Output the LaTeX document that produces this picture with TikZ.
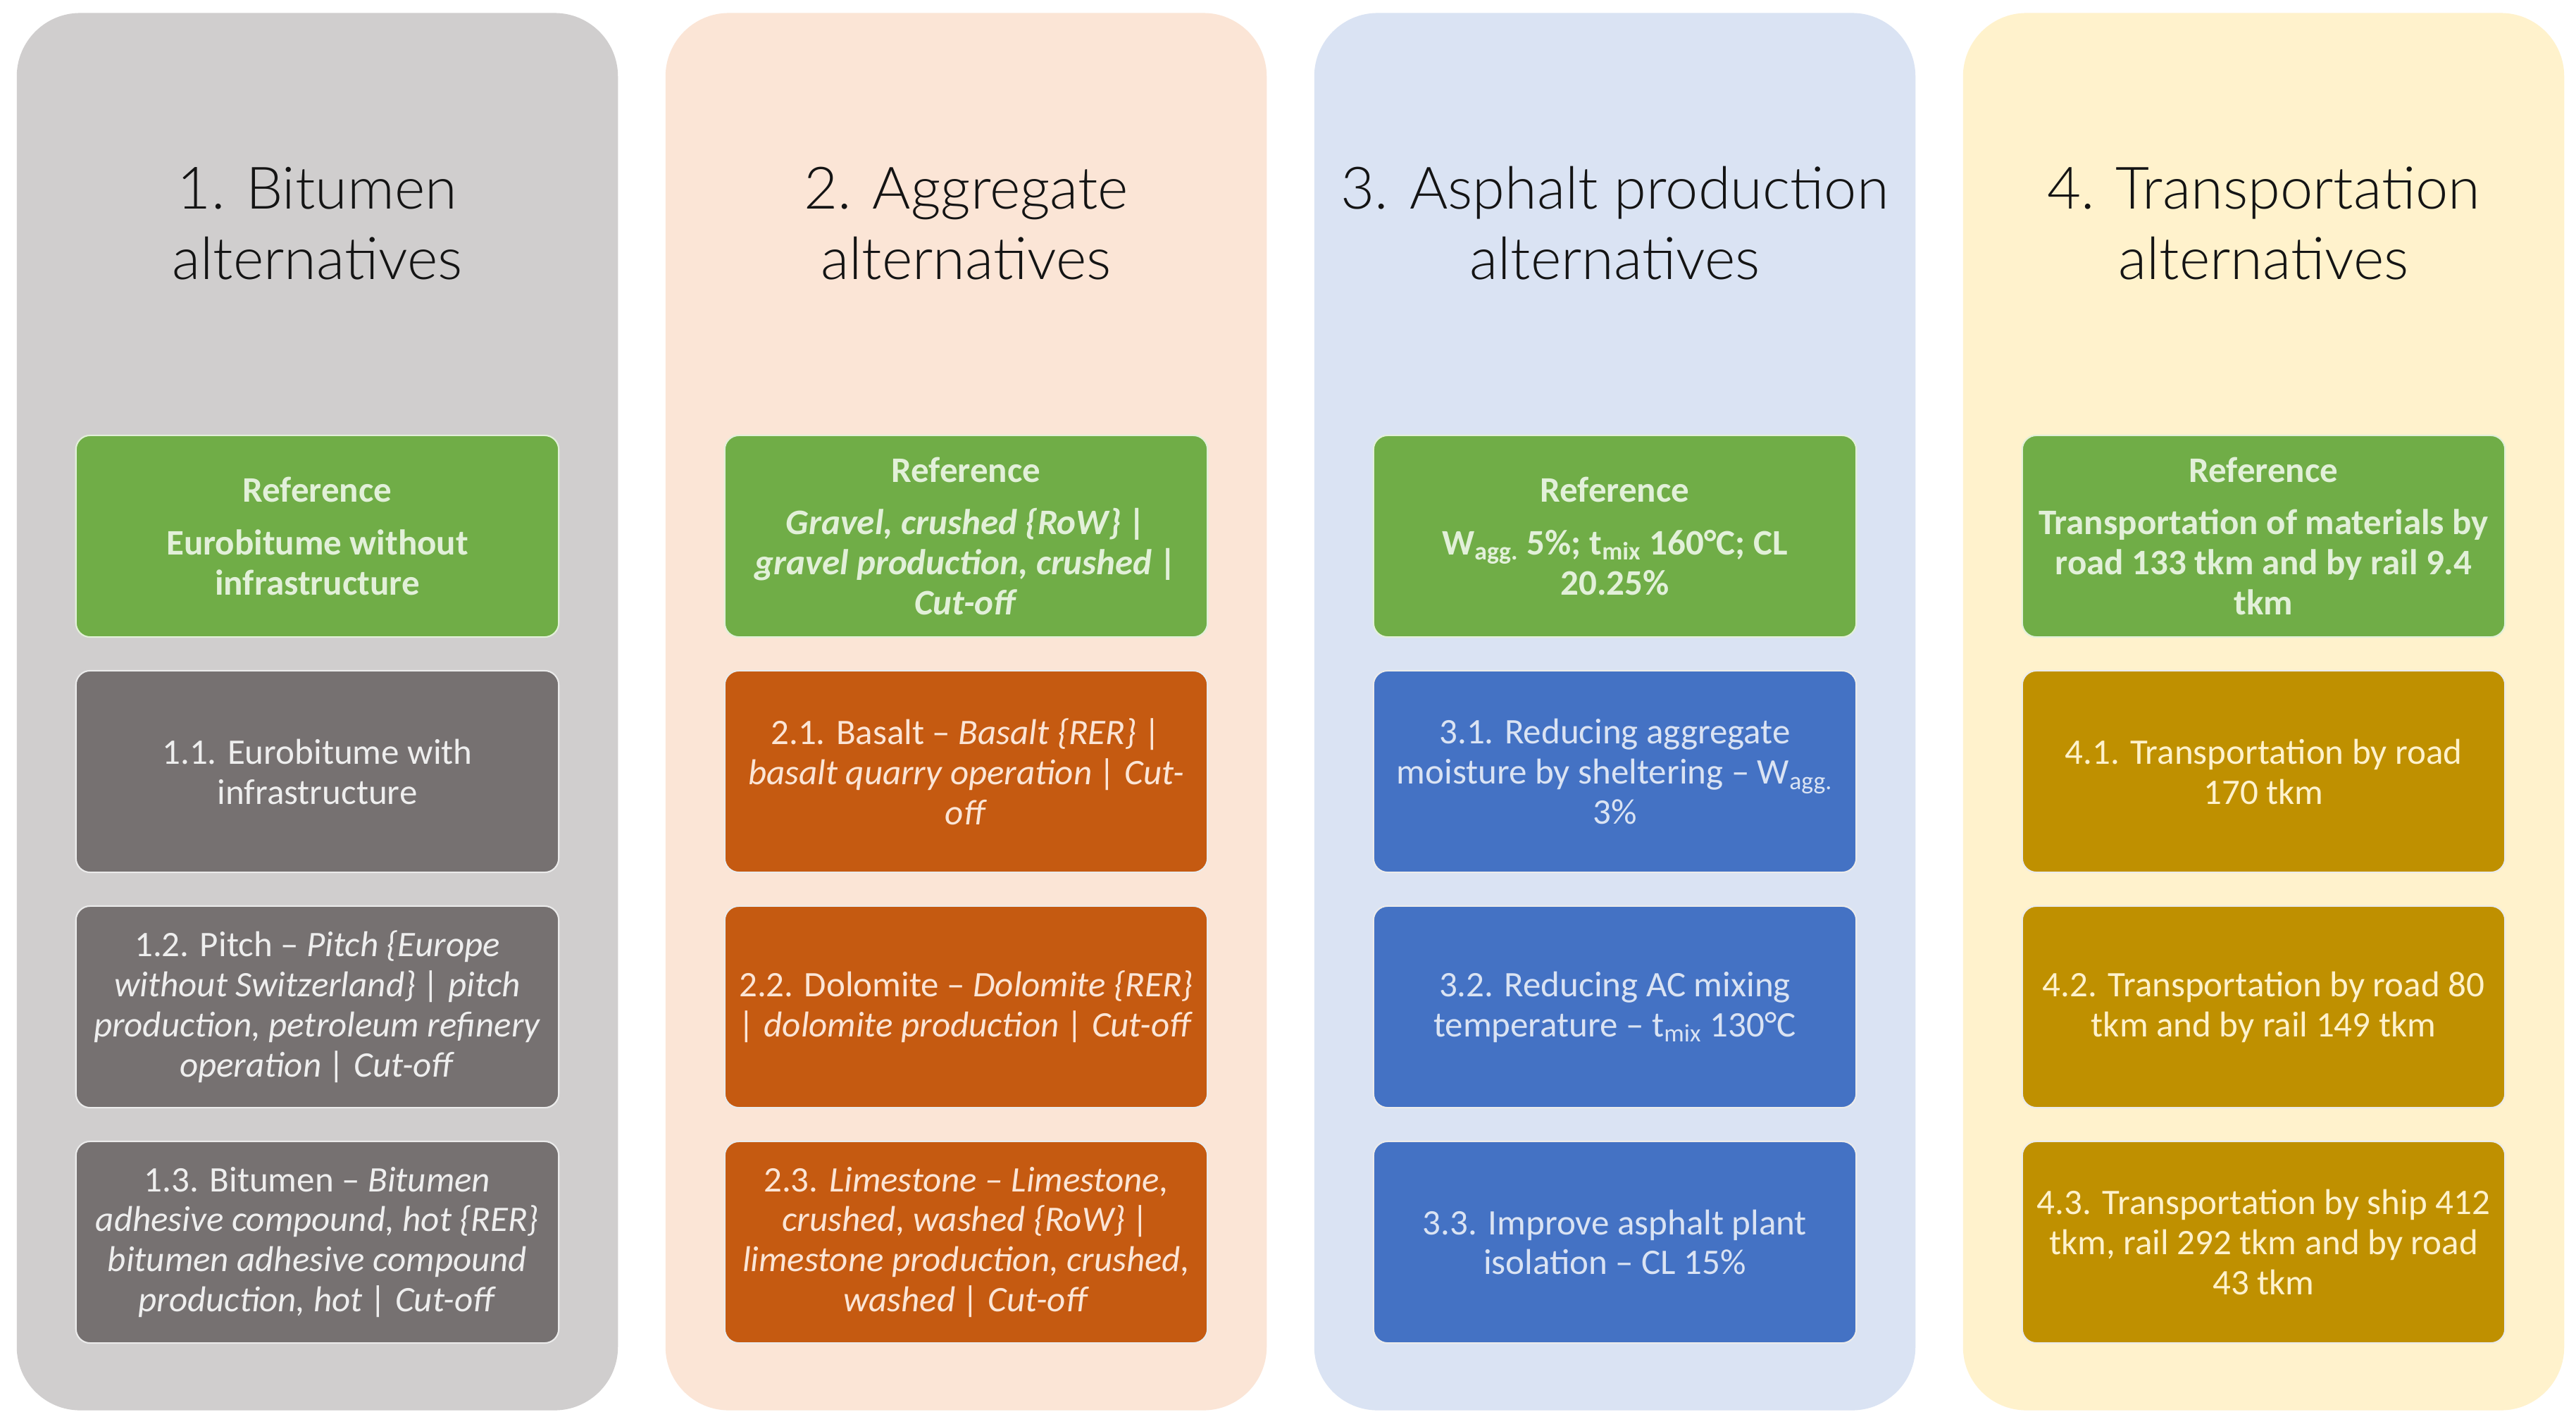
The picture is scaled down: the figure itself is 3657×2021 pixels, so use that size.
\documentclass[tikz,border=0pt]{standalone}
\usepackage{fontspec}
\setmainfont{Carlito}
\newfontfamily\titlefont{Lato}[UprightFont=* Light]
\definecolor{panelA}{HTML}{D0CECE}
\definecolor{panelB}{HTML}{FBE5D6}
\definecolor{panelC}{HTML}{DAE3F3}
\definecolor{panelD}{HTML}{FFF2CC}
\definecolor{boxA}{HTML}{767171}
\definecolor{boxB}{HTML}{C55A11}
\definecolor{boxC}{HTML}{4472C4}
\definecolor{boxD}{HTML}{BF9000}
\definecolor{refG}{HTML}{70AD47}
\definecolor{refT}{HTML}{E2F0D9}
\definecolor{txtA}{HTML}{EEEEEE}
\definecolor{titleC}{HTML}{141414}
\tikzset{
  panel/.style={rectangle, rounded corners=0.9cm, minimum width=8.53cm, minimum height=19.82cm, inner sep=0pt, draw=none},
  coltitle/.style={align=center, text=titleC, font=\titlefont\fontsize{23.6}{28.5}\selectfont},
  altbox/.style={rectangle, rounded corners=0.2cm, minimum width=6.85cm, minimum height=2.86cm, draw=white!92!black, line width=0.6pt, align=center, inner sep=0pt, font=\fontsize{14.5}{16.2}\selectfont},
  refbox/.style={altbox, fill=refG, draw=refT, text=refT},
  greybox/.style={altbox, fill=boxA, text=txtA},
  orangebox/.style={altbox, fill=boxB, text=panelB},
  bluebox/.style={altbox, fill=boxC, text=panelC},
  goldbox/.style={altbox, fill=boxD, text=panelD},
}
\newcommand{\refhead}{\textbf{Reference}\\[5pt]}
\begin{document}
\begin{tikzpicture}[x=0.01cm, y=-0.01cm]
\useasboundingbox[fill=white] (0,0) rectangle (3657,2021);
% panels
\node[panel, fill=panelA] (p1) at (450.5,1010) {};
\node[panel, fill=panelB] (p2) at (1371.5,1010) {};
\node[panel, fill=panelC] (p3) at (2292.5,1010) {};
\node[panel, fill=panelD] (p4) at (3213.5,1010) {};
% titles
\node[coltitle] (t1) at (450.5,317) {1. Bitumen\\alternatives};
\node[coltitle] (t2) at (1371.5,317) {2. Aggregate\\alternatives};
\node[coltitle] (t3) at (2292.5,317) {3. Asphalt production\\alternatives};
\node[coltitle] (t4) at (3213.5,317) {4. Transportation\\alternatives};
% column 1
\node[refbox] (r1) at (450.5,761) {\refhead\textbf{Eurobitume without}\\\textbf{infrastructure}};
\node[greybox] (b11) at (450.5,1095) {1.1. Eurobitume with\\infrastructure};
\node[greybox] (b12) at (450.5,1429) {1.2. Pitch -- \textit{Pitch \{Europe}\\\textit{without Switzerland\} | pitch}\\\textit{production, petroleum refinery}\\\textit{operation | Cut-off}};
\node[greybox] (b13) at (450.5,1763) {1.3. Bitumen -- \textit{Bitumen}\\\textit{adhesive compound, hot \{RER\}}\\\textit{bitumen adhesive compound}\\\textit{production, hot | Cut-off}};
% column 2
\node[refbox] (r2) at (1371.5,761) {\refhead\textbf{\textit{Gravel, crushed \{RoW\} |}}\\\textbf{\textit{gravel production, crushed |}}\\\textbf{\textit{Cut-off}}};
\node[orangebox] (b21) at (1371.5,1095) {2.1. Basalt -- \textit{Basalt \{RER\} |}\\\textit{basalt quarry operation | Cut-}\\\textit{off}};
\node[orangebox] (b22) at (1371.5,1429) {2.2. Dolomite -- \textit{Dolomite \{RER\}}\\\textit{| dolomite production | Cut-off}};
\node[orangebox] (b23) at (1371.5,1763) {2.3. \textit{Limestone -- Limestone,}\\\textit{crushed, washed \{RoW\} |}\\\textit{limestone production, crushed,}\\\textit{washed | Cut-off}};
% column 3
\node[refbox] (r3) at (2292.5,761) {\refhead\textbf{W\textsubscript{agg.} 5\%; t\textsubscript{mix} 160°C; CL}\\\textbf{20.25\%}};
\node[bluebox] (b31) at (2292.5,1095) {3.1. Reducing aggregate\\moisture by sheltering -- W\textsubscript{agg.}\\3\%};
\node[bluebox] (b32) at (2292.5,1429) {3.2. Reducing AC mixing\\temperature -- t\textsubscript{mix} 130°C};
\node[bluebox] (b33) at (2292.5,1763) {3.3. Improve asphalt plant\\isolation -- CL 15\%};
% column 4
\node[refbox] (r4) at (3213.5,761) {\refhead\textbf{Transportation of materials by}\\\textbf{road 133 tkm and by rail 9.4}\\\textbf{tkm}};
\node[goldbox] (b41) at (3213.5,1095) {4.1. Transportation by road\\170 tkm};
\node[goldbox] (b42) at (3213.5,1429) {4.2. Transportation by road 80\\tkm and by rail 149 tkm};
\node[goldbox] (b43) at (3213.5,1763) {4.3. Transportation by ship 412\\tkm, rail 292 tkm and by road\\43 tkm};
\end{tikzpicture}
\end{document}
